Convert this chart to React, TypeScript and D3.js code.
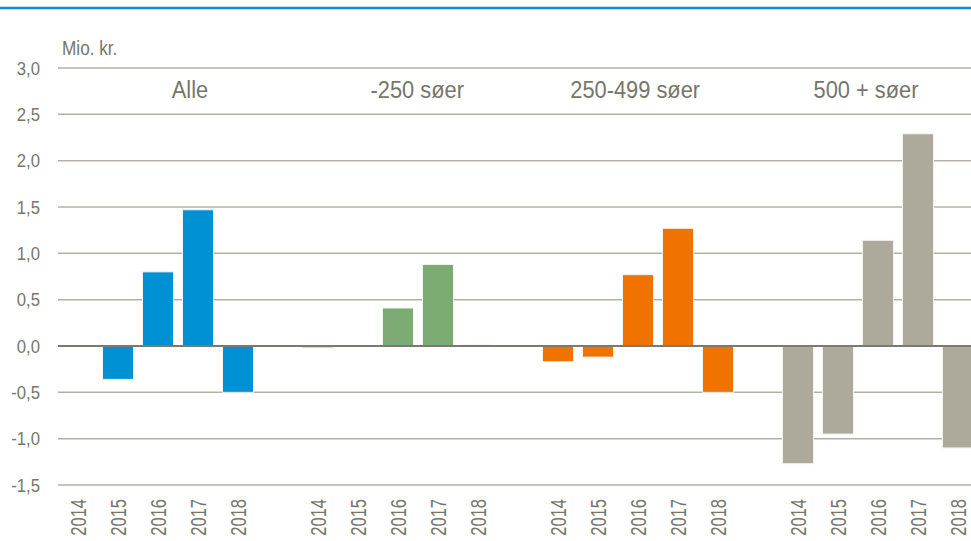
import React from 'react';
import * as d3 from 'd3';

const W = 971;
const H = 541;

// grupper og år
const groups = ['Alle', '-250 søer', '250-499 søer', '500 + søer'];
const years = ['2014', '2015', '2016', '2017', '2018'];
const groupColors = ['#0091d5', '#7bab72', '#f07300', '#adaa9b'];

// Mio. kr. pr. år, én liste pr. gruppe
const alle = [0, -0.36, 0.80, 1.47, -0.50];
const under250 = [-0.02, 0, 0.41, 0.88, 0.01];
const mellem250og499 = [-0.17, -0.12, 0.77, 1.27, -0.50];
const over500 = [-1.27, -0.95, 1.14, 2.29, -1.10];
const seriesValues = [alle, under250, mellem250og499, over500];

const yTicks = [3.0, 2.5, 2.0, 1.5, 1.0, 0.5, 0.0, -0.5, -1.0, -1.5];
// titlernes placering, i slot-enheder fra venstre
const titleSlots = [3.3, 8.98, 14.43, 20.2];

const font = '"Liberation Sans", Arial, sans-serif';
const textCol = '#76766a';

export default function App() {
  const left = 58;
  // 23 pladser: 4 grupper á 5 år med en tom plads imellem
  const slots: string[] = [];
  groups.forEach((g, gi) => {
    years.forEach(y => slots.push(g + '|' + y));
    if (gi < groups.length - 1) slots.push('gap' + gi);
  });

  const x = d3.scaleBand<string>().domain(slots).range([left, left + 40 * slots.length])
    .paddingInner(0.225).paddingOuter(0.1125);
  const y = d3.scaleLinear().domain([-1.5, 3]).range([485, 68]);
  const fmt = (v: number) => d3.format('.1f')(v).replace('.', ',').replace('−', '-');

  const bars: {key: string; v: number; color: string}[] = [];
  groups.forEach((g, gi) => {
    seriesValues[gi].forEach((v, i) => bars.push({key: g + '|' + years[i], v, color: groupColors[gi]}));
  });

  return (
    <svg width={W} height={H} style={{position: 'absolute', left: 0, top: 0, background: '#fff'}} fontFamily={font}>
      <line x1={0} x2={W} y1={8} y2={8} stroke="#0a8fd2" strokeWidth={2.5} />
      {yTicks.map(t => (
        <g key={t}>
          {t !== 0 && <line x1={left} x2={W} y1={y(t)} y2={y(t)} stroke="#b3b1a4" strokeWidth={1.5} />}
          <text transform={`translate(40,${y(t)}) scale(0.88,1)`} dy="0.35em" textAnchor="end" fontSize={19} fill={textCol}>{fmt(t)}</text>
        </g>
      ))}
      <text transform="translate(62,55) scale(0.86,1)" fontSize={20} fill={textCol}>Mio. kr.</text>
      {bars.map(b => (
        <rect key={b.key} x={x(b.key)} width={x.bandwidth()}
          y={y(Math.max(0, b.v))} height={Math.abs(y(b.v) - y(0))}
          fill={b.color} stroke="#f2f2ee" strokeWidth={1} />
      ))}
      <line x1={left} x2={W} y1={y(0)} y2={y(0)} stroke="#7b7a70" strokeWidth={2} />
      {bars.map(b => {
        const cx = (x(b.key) as number) + x.bandwidth() / 2;
        return (
          <text key={'l' + b.key} transform={`translate(${cx + 8},499) rotate(-90) scale(0.75,1)`} textAnchor="end"
            fontSize={22} fill={textCol}>{b.key.split('|')[1]}</text>
        );
      })}
      {groups.map((g, gi) => (
        <text key={g} transform={`translate(${left + 40 * titleSlots[gi]},98) scale(0.91,1)`} textAnchor="middle"
          fontSize={24} fill={textCol}>{g}</text>
      ))}
    </svg>
  );
}
